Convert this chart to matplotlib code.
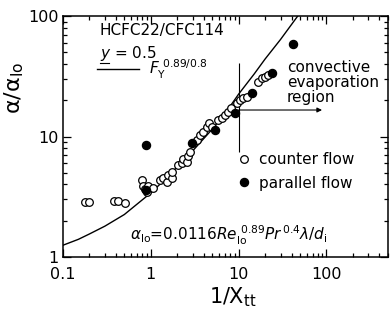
import matplotlib
matplotlib.use("Agg")
import matplotlib.pyplot as plt
import matplotlib.ticker as mticker
from matplotlib.lines import Line2D

plt.rcParams["font.family"] = ["DejaVu Sans"]
plt.rcParams["mathtext.fontset"] = "dejavusans"

# counter flow (open circles): 1/Xtt, alpha/alpha_lo
counter_x = [0.178, 0.198, 0.381, 0.423, 0.508, 0.794, 0.815, 0.859, 0.905, 0.929,
             1.06, 1.27, 1.38, 1.53, 1.57, 1.74, 1.74, 2.04, 2.27, 2.33,
             2.58, 2.65, 2.79, 3.36, 3.63, 3.93, 4.37, 4.60, 4.98, 5.82,
             6.47, 7.00, 7.57, 8.2, 9.58, 10.4, 11.2, 12.5, 16.6, 18.5,
             20.0, 21.6]
counter_y = [2.86, 2.86, 2.92, 2.92, 2.81, 4.36, 3.88, 3.67, 3.46, 3.88,
             3.74, 4.36, 4.52, 4.19, 4.79, 4.52, 5.07, 5.80, 6.03, 6.50,
             6.14, 6.89, 7.44, 9.35, 10.3, 10.9, 12.0, 12.9, 12.0, 13.7,
             14.2, 15.1, 16.0, 17.3, 19.0, 20.1, 20.9, 21.3, 28.3, 30.6,
             31.2, 32.4]

# parallel flow (filled circles)
parallel_x = [0.881, 0.881, 2.94, 5.38, 9.1, 14.2, 24.0, 41.7]
parallel_y = [8.5, 3.6, 8.83, 11.3, 15.7, 23.0, 33.6, 58.6]

# correlation curve F_Y^(0.89/0.8)
curve_x = [0.1, 0.15, 0.2, 0.3, 0.5, 0.7, 1.0, 1.5, 2.0, 3.0, 5.0, 7.0, 10.0, 15.0, 20.0, 30.0, 47.0]
curve_y = [1.25, 1.4, 1.55, 1.8, 2.25, 2.75, 3.4, 4.5, 5.6, 7.6, 11.5, 15.5, 22.5, 33.0, 44.0, 64.0, 100.0]

# convective evaporation region marker
region_x = 10.0
region_vline_y = (7.4, 40.7)
region_arrow_y = 16.6
region_arrow_end = 89.0

fig = plt.figure(figsize=(3.91, 3.16), dpi=100)
ax = fig.add_axes([0.161, 0.187, 0.831, 0.762])

ax.plot(curve_x, curve_y, color="black", lw=1.0, zorder=2)
ax.plot(counter_x, counter_y, "o", mfc="white", mec="black", mew=0.9, ms=5.5,
        ls="none", zorder=3)
ax.plot(parallel_x, parallel_y, "o", mfc="black", mec="black", ms=5.8, ls="none", zorder=4)

ax.vlines(region_x, *region_vline_y, color="black", lw=0.8)
ax.annotate("", xy=(region_arrow_end, region_arrow_y), xytext=(region_x, region_arrow_y),
            arrowprops=dict(arrowstyle="-|>", color="black", lw=0.8,
                            mutation_scale=7, shrinkA=0, shrinkB=0))

ax.set_xscale("log")
ax.set_yscale("log")
ax.set_xlim(0.1, 500)
ax.set_ylim(1, 100)

ax.xaxis.set_major_locator(mticker.FixedLocator([0.1, 1, 10, 100]))
ax.xaxis.set_major_formatter(mticker.FixedFormatter(["0.1", "1", "10", "100"]))
ax.yaxis.set_major_locator(mticker.FixedLocator([1, 10, 100]))
ax.yaxis.set_major_formatter(mticker.FixedFormatter(["1", "10", "100"]))
ax.xaxis.set_minor_locator(mticker.LogLocator(subs=range(2, 10)))
ax.yaxis.set_minor_locator(mticker.LogLocator(subs=range(2, 10)))
ax.xaxis.set_minor_formatter(mticker.NullFormatter())
ax.yaxis.set_minor_formatter(mticker.NullFormatter())

ax.tick_params(which="both", direction="in", top=True, right=True, width=0.9)
ax.tick_params(which="major", length=6, labelsize=11.5)
ax.tick_params(which="minor", length=3)
ax.tick_params(axis="x", which="major", pad=7)
ax.tick_params(axis="y", which="major", pad=3)
for sp in ax.spines.values():
    sp.set_linewidth(1.1)

ax.set_xlabel(r"1/X$_{\mathrm{tt}}$", fontsize=15)
ax.xaxis.set_label_coords(0.523, -0.12)
ax.set_ylabel(r"$\mathrm{\alpha}/\mathrm{\alpha}_{\mathrm{lo}}$", fontsize=16)
ax.yaxis.set_label_coords(-0.115, 0.70)

ax.text(0.114, 0.942, "HCFC22/CFC114", transform=ax.transAxes, fontsize=11, va="center")
ax.text(0.114, 0.846, r"$y$ = 0.5", transform=ax.transAxes, fontsize=11, va="center")
ax.plot([0.114, 0.142], [0.805, 0.805], transform=ax.transAxes, color="black", lw=0.8)

for i, line in enumerate(["convective", "evaporation", "region"]):
    ax.text(0.689, 0.788 - i * 0.062, line, transform=ax.transAxes, fontsize=11, va="center")

ax.text(0.206, 0.091,
        r"$\alpha_{\mathrm{lo}}$=0.0116$Re_{\mathrm{lo}}^{\ 0.89}Pr^{\,0.4}\lambda/d_{\mathrm{i}}$",
        transform=ax.transAxes, fontsize=11, va="center")

curve_handle = [Line2D([], [], color="black", lw=1.0)]
leg1 = ax.legend(curve_handle, [r"$F_{\mathrm{Y}}^{\ 0.89/0.8}$"], loc="center left",
                 bbox_to_anchor=(0.085, 0.78), frameon=False, fontsize=11,
                 handlelength=2.8, handletextpad=0.6, borderaxespad=0)
ax.add_artist(leg1)

marker_handles = [
    Line2D([], [], marker="o", mfc="white", mec="black", mew=0.9, ms=5.5, ls="none"),
    Line2D([], [], marker="o", mfc="black", mec="black", ms=5.8, ls="none"),
]
ax.legend(marker_handles, ["counter flow", "parallel flow"], loc="upper left",
          bbox_to_anchor=(0.515, 0.46), frameon=False, fontsize=11,
          handlelength=1.0, handletextpad=0.5, labelspacing=0.55, borderaxespad=0)

fig.savefig("out.png", dpi=100)
